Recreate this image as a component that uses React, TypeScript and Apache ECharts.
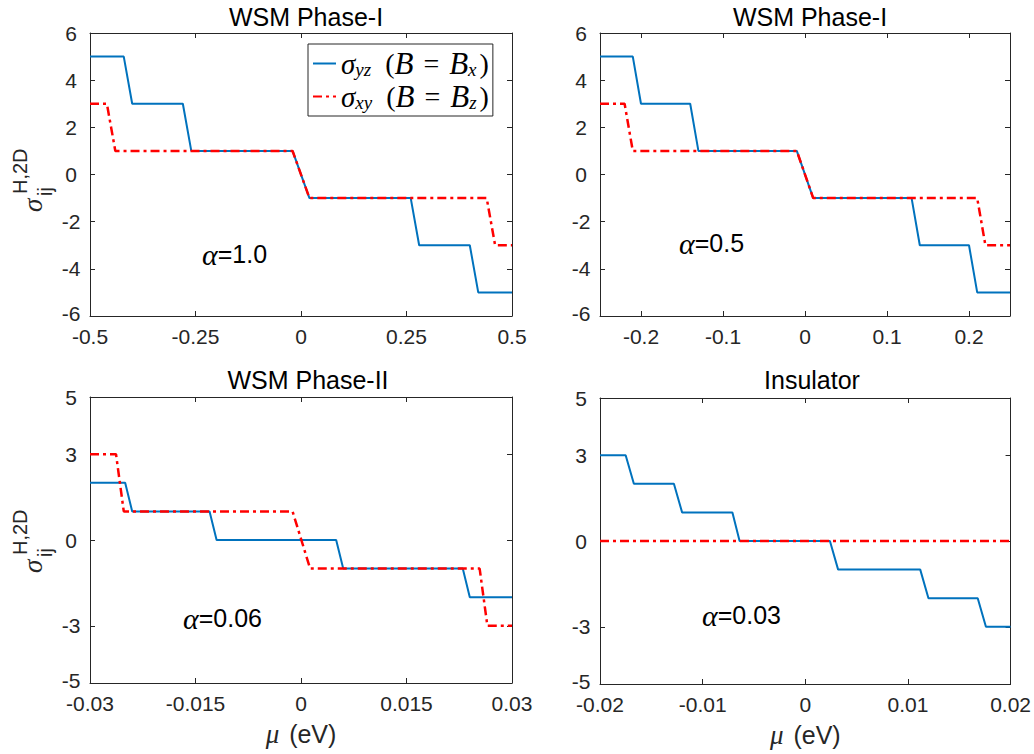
import React, { useEffect, useRef } from "react";
import * as echarts from "echarts";

// ---- data ----
const TL_YZ: [number, number][] = [[-0.5, 5], [-0.42, 5], [-0.4, 3], [-0.28, 3], [-0.26, 1], [-0.02, 1], [0.02, -1], [0.26, -1], [0.28, -3], [0.4, -3], [0.42, -5], [0.5, -5]];
const TL_XY: [number, number][] = [[-0.5, 3], [-0.46, 3], [-0.44, 1], [-0.02, 1], [0.02, -1], [0.44, -1], [0.46, -3], [0.5, -3]];
const TR_YZ: [number, number][] = [[-0.25, 5], [-0.21, 5], [-0.2, 3], [-0.14, 3], [-0.13, 1], [-0.01, 1], [0.01, -1], [0.13, -1], [0.14, -3], [0.2, -3], [0.21, -5], [0.25, -5]];
const TR_XY: [number, number][] = [[-0.25, 3], [-0.22, 3], [-0.21, 1], [-0.01, 1], [0.01, -1], [0.21, -1], [0.22, -3], [0.25, -3]];
const BL_YZ: [number, number][] = [[-0.03, 2], [-0.025, 2], [-0.024, 1], [-0.013, 1], [-0.012, 0], [0.005, 0], [0.006, -1], [0.023, -1], [0.024, -2], [0.03, -2]];
const BL_XY: [number, number][] = [[-0.03, 3], [-0.0263, 3], [-0.0252, 1], [-0.0012, 1], [0.0013, -1], [0.0254, -1], [0.0265, -3], [0.03, -3]];
const BR_YZ: [number, number][] = [[-0.02, 3], [-0.0175, 3], [-0.0167, 2], [-0.0128, 2], [-0.012, 1], [-0.0071, 1], [-0.0064, 0], [0.0024, 0], [0.0032, -1], [0.0112, -1], [0.012, -2], [0.0168, -2], [0.0176, -3], [0.02, -3]];
const BR_XY: [number, number][] = [[-0.02, 0], [0.02, 0]];

const TITLES = ["WSM Phase-I", "WSM Phase-I", "WSM Phase-II", "Insulator"];
const ALPHAS = ["=1.0", "=0.5", "=0.06", "=0.03"];
const X_RANGES: [number, number][] = [[-0.5, 0.5], [-0.25, 0.25], [-0.03, 0.03], [-0.02, 0.02]];
const X_TICKS: number[][] = [
  [-0.5, -0.25, 0, 0.25, 0.5],
  [-0.2, -0.1, 0, 0.1, 0.2],
  [-0.03, -0.015, 0, 0.015, 0.03],
  [-0.02, -0.01, 0, 0.01, 0.02],
];
const Y_RANGES: [number, number][] = [[-6, 6], [-6, 6], [-5, 5], [-5, 5]];
const Y_TICKS: number[][] = [
  [-6, -4, -2, 0, 2, 4, 6],
  [-6, -4, -2, 0, 2, 4, 6],
  [-5, -3, 0, 3, 5],
  [-5, -3, 0, 3, 5],
];
const YZ_DATA = [TL_YZ, TR_YZ, BL_YZ, BR_YZ];
const XY_DATA = [TL_XY, TR_XY, BL_XY, BR_XY];

// ---- layout ----
const GRIDS = [
  { left: 90, top: 33, width: 422, height: 283 },
  { left: 600, top: 33, width: 410, height: 283 },
  { left: 90, top: 397, width: 422, height: 286 },
  { left: 600, top: 398, width: 413, height: 286 },
];
const TITLE_POS = [
  { x: 306, top: 4 },
  { x: 810, top: 4 },
  { x: 308, top: 367 },
  { x: 812, top: 367 },
];
const ALPHA_POS = [
  { x: 202, y: 254 },
  { x: 679, y: 243 },
  { x: 183, y: 618 },
  { x: 702, y: 615 },
];

const AX = "#262626";
const SANS = "Liberation Sans";
const SERIF = "Liberation Serif";
const BLUE = "#0072BD";
const RED = "#FF0000";

function vtext(x: number, y: number, text: string, fontSize: number, fontFamily: string, italic: boolean) {
  return {
    type: "text",
    x,
    y,
    rotation: Math.PI / 2,
    style: {
      text,
      fontSize,
      fontFamily,
      fontStyle: italic ? "italic" : "normal",
      fill: AX,
      align: "left",
      verticalAlign: "middle",
    },
  };
}

function yLabel(oy: number) {
  return [
    vtext(33, oy, "σ", 27, SERIF, true),
    vtext(20, oy - 18, "H,2D", 20, SANS, false),
    vtext(45, oy - 16, "ij", 20, SANS, false),
  ];
}

export default function App() {
  const ref = useRef<HTMLDivElement>(null);
  useEffect(() => {
    if (!ref.current) return;
    const chart = echarts.init(ref.current, undefined, { renderer: "svg" });

    const xAxis: any[] = [];
    const yAxis: any[] = [];
    const series: any[] = [];
    GRIDS.forEach((_, g) => {
      const [xmin, xmax] = X_RANGES[g];
      const [ymin, ymax] = Y_RANGES[g];
      const common = {
        type: "value",
        gridIndex: g,
        splitLine: { show: false },
        axisLine: { show: true, onZero: false, lineStyle: { color: AX, width: 1 } },
      };
      const bottom: any = {
        ...common,
        position: "bottom",
        min: xmin,
        max: xmax,
        axisTick: { show: true, inside: true, length: 5, lineStyle: { color: AX }, customValues: X_TICKS[g] },
        axisLabel: { show: true, customValues: X_TICKS[g], margin: 12, fontSize: 21, lineHeight: 16, fontFamily: SANS, color: AX },
      };
      if (g >= 2) {
        bottom.name = "{m|μ}{n| (eV)}";
        bottom.nameLocation = "middle";
        bottom.nameGap = 36;
        bottom.nameTextStyle = {
          rich: {
            m: { fontFamily: SERIF, fontStyle: "italic", fontSize: 27, color: AX, lineHeight: 30, padding: [0, 3, 0, 0] },
            n: { fontFamily: SANS, fontSize: 25, color: AX, lineHeight: 30 },
          },
        };
      }
      xAxis.push(bottom);
      xAxis.push({
        ...common,
        position: "top",
        min: xmin,
        max: xmax,
        axisTick: { show: true, inside: true, length: 5, lineStyle: { color: AX }, customValues: X_TICKS[g] },
        axisLabel: { show: false },
      });
      yAxis.push({
        ...common,
        position: "left",
        min: ymin,
        max: ymax,
        axisTick: { show: true, inside: true, length: 5, lineStyle: { color: AX }, customValues: Y_TICKS[g] },
        axisLabel: {
          show: true,
          customValues: Y_TICKS[g],
          margin: 19,
          align: "center",
          fontSize: 21,
          lineHeight: 16,
          fontFamily: SANS,
          color: AX,
          formatter: (v: number) => (v === ymin ? `{lo|${v}}` : `${v}`),
          rich: { lo: { fontSize: 21, lineHeight: 16, fontFamily: SANS, color: AX, padding: [0, 0, 6, 0] } },
        },
      });
      yAxis.push({
        ...common,
        position: "right",
        min: ymin,
        max: ymax,
        axisTick: { show: true, inside: true, length: 5, lineStyle: { color: AX }, customValues: Y_TICKS[g] },
        axisLabel: { show: false },
      });
      series.push({
        name: "σyz",
        type: "line",
        xAxisIndex: 2 * g,
        yAxisIndex: 2 * g,
        data: YZ_DATA[g],
        symbol: "none",
        showSymbol: false,
        lineStyle: { color: BLUE, width: 2 },
        itemStyle: { color: BLUE },
        z: 2,
      });
      series.push({
        name: "σxy",
        type: "line",
        xAxisIndex: 2 * g,
        yAxisIndex: 2 * g,
        data: XY_DATA[g],
        symbol: "none",
        showSymbol: false,
        lineStyle: { color: RED, width: 2.5, type: [9, 4, 3, 4] },
        itemStyle: { color: RED },
        z: 3,
      });
    });

    const richLegend = {
      s: { fontFamily: SERIF, fontStyle: "italic", fontSize: 29, color: "#000", lineHeight: 30 },
      sub: { fontFamily: SERIF, fontStyle: "italic", fontSize: 19, color: "#000", lineHeight: 14, verticalAlign: "bottom" },
      n: { fontFamily: SERIF, fontSize: 28, color: "#000", lineHeight: 30 },
      eq: { fontFamily: SERIF, fontSize: 28, color: "#000", lineHeight: 30, padding: [0, 10, 0, 10] },
      cp: { fontFamily: SERIF, fontSize: 28, color: "#000", lineHeight: 30, padding: [0, 0, 0, 3] },
      i: { fontFamily: SERIF, fontStyle: "italic", fontSize: 31, color: "#000", lineHeight: 30 },
    };

    const option: any = {
      animation: false,
      backgroundColor: "#fff",
      title: TITLES.map((t, g) => ({
        text: t,
        left: TITLE_POS[g].x,
        top: TITLE_POS[g].top,
        textAlign: "center",
        padding: 0,
        textStyle: { fontSize: 25, fontWeight: "normal", fontFamily: SANS, color: "#000" },
      })),
      grid: GRIDS.map((g) => ({ ...g, containLabel: false })),
      xAxis,
      yAxis,
      legend: {
        data: ["σyz", "σxy"],
        orient: "vertical",
        left: 308,
        top: 44,
        padding: [4, 4, 4, 4],
        itemGap: 2,
        itemWidth: 23,
        itemHeight: 14,
        itemStyle: { opacity: 0 },
        backgroundColor: "#fff",
        borderColor: AX,
        borderWidth: 1,
        borderRadius: 0,
        selectedMode: false,
        formatter: (name: string) =>
          name === "σyz"
            ? "{s|σ}{sub|yz}{n|  (}{i|B}{eq|=}{i|B}{sub|x}{cp|)}"
            : "{s|σ}{sub|xy}{n|  (}{i|B}{eq|=}{i|B}{sub|z}{cp|)}",
        textStyle: { rich: richLegend },
      },
      graphic: [
        ...yLabel(212),
        ...yLabel(573),
        ...ALPHAS.map((a, g) => ({
          type: "text",
          x: ALPHA_POS[g].x,
          y: ALPHA_POS[g].y,
          style: {
            text: `{a|α}{b|${a}}`,
            align: "left",
            verticalAlign: "middle",
            rich: {
              a: { fontFamily: SERIF, fontStyle: "italic", fontSize: 30, fill: "#000", color: "#000" },
              b: { fontFamily: SANS, fontSize: 25, fill: "#000", color: "#000" },
            },
          },
        })),
      ],
      series,
    };
    chart.setOption(option);
    return () => chart.dispose();
  }, []);
  return <div ref={ref} style={{ width: 1034, height: 754, position: "absolute", left: 0, top: 0 }} />;
}
